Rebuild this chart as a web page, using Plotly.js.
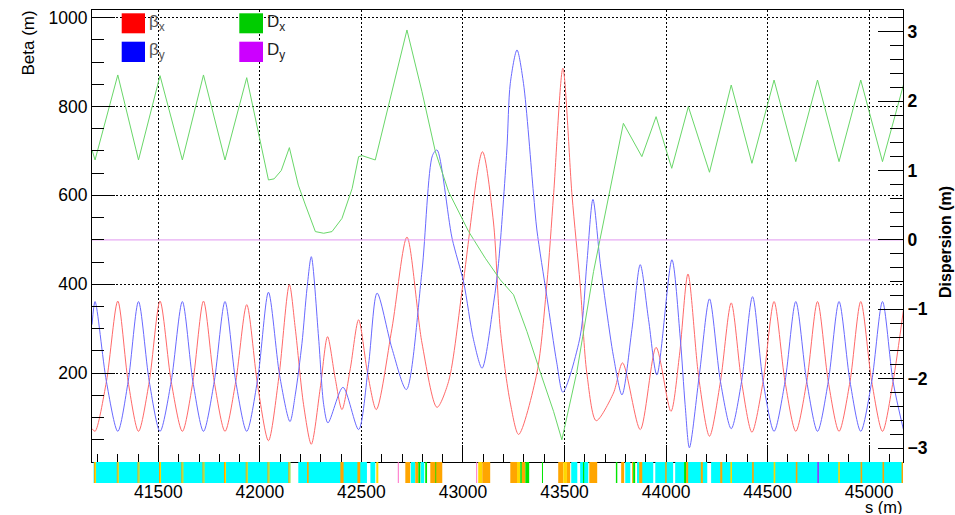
<!DOCTYPE html>
<html><head><meta charset="utf-8">
<script src="https://cdn.plot.ly/plotly-3.0.1.min.js"></script>
<style>body{margin:0;background:#fff}#chart{width:955px;height:515px}</style>
</head><body><div id="chart"></div>
<script>
// ---- data (s in m) ----
const sBetaX = [41173,41188,41244,41300,41351,41402,41455,41508,41563,41618,41670,41722,41775,41828,41881,41935,41988,42042,42093,42145,42174,42215,42253,42297,42333,42370,42404,42445,42486,42530,42573,42650,42724,42798,42872,42929,43000,43096,43150,43184,43233,43274,43364,43413,43446,43492,43537,43577,43610,43656,43741,43786,43873,43951,44024,44066,44108,44161,44214,44268,44321,44372,44423,44478,44532,44586,44639,44693,44746,44799,44852,44906,44959,45013,45066,45118,45169];
const betaX  = [75,69,181,362,181,69,181,362,181,69,181,362,181,69,181,354,175,48,190,399,301,129,40,166,282,190,118,210,320,200,118,300,506,268,123,181,400,698,540,298,133,62,200,400,600,886,600,400,200,93,155,223,73,258,114,240,423,190,58,181,358,181,67,181,361,181,69,181,361,181,69,181,361,181,69,181,342];

const sBetaY = [41173,41188,41244,41300,41351,41402,41455,41508,41563,41618,41670,41722,41775,41828,41881,41935,41990,42042,42097,42148,42174,42207,42232,42253,42289,42314,42335,42409,42486,42535,42577,42650,42721,42798,42850,42872,42946,43003,43052,43094,43151,43175,43216,43233,43266,43298,43347,43364,43413,43462,43492,43577,43610,43640,43676,43709,43741,43783,43832,43873,43914,43955,44029,44070,44094,44115,44165,44214,44268,44321,44372,44426,44478,44532,44586,44639,44693,44746,44799,44852,44906,44959,45013,45066,45118,45169];
const betaY  = [309,361,181,69,181,361,181,69,181,361,181,69,181,361,181,69,190,382,195,91,151,267,391,462,279,129,88,168,73,219,380,256,163,429,690,702,504,405,275,211,358,447,702,852,927,852,605,522,372,223,157,282,447,591,447,335,238,151,298,444,320,196,455,279,129,32,200,367,181,75,181,372,181,69,181,361,181,69,181,361,181,69,181,361,181,73];

const sDispX = [41173,41188,41300,41402,41508,41618,41722,41828,41935,42042,42070,42105,42145,42189,42224,42273,42314,42355,42404,42454,42486,42503,42568,42724,42798,42864,42929,43028,43110,43184,43249,43315,43380,43446,43487,43561,43643,43709,43790,43881,43951,44028,44110,44214,44321,44423,44532,44639,44746,44852,44959,45066,45169];
const dispX  = [1.296,1.152,2.377,1.152,2.367,1.152,2.377,1.152,2.338,0.864,0.88,1.0,1.33,0.79,0.504,0.12,0.096,0.12,0.31,0.74,1.2,1.215,1.152,3.025,2.136,1.272,0.696,0.12,-0.264,-0.576,-0.79,-1.32,-1.9,-2.47,-2.88,-1.9,-0.456,0.504,1.68,1.2,1.776,1.032,1.92,0.975,2.232,1.104,2.304,1.128,2.304,1.128,2.304,1.128,2.232];

const sDispY = [41173,45167];
const dispY  = [0,0];

// tick labels
const betaTicks = [200,400,600,800,1000];
const dispTicks = [-3,-2,-1,0,1,2,3];
const sTicks = [41500,42000,42500,43000,43500,44000,44500,45000];

// lattice elements: start, end, kind
const elemStart = [41181,42189,42544,42743,42792,43533,43577,43799,43857,43947,44045,44222,
  41183,41188,41295,41300,41397,41402,41503,41508,41613,41618,41717,41722,41823,41828,41930,41935,42037,42042,42140,42145,
  42232,42396,42480,42573,42679,42716,42765,42780,42814,42839,42864,43065,43075,43095,43233,43266,43282,43290,43307,43389,43469,43494,43512,43591,43622,43753,43779,43833,43838,43868,43996,44089,44099,44171,44267,
  44317,44424,44530,44639,44745,44848,44958,45066,45160];
const elemEnd   = [42150,42527,42568,42765,42809,43563,43617,43824,43937,44035,44203,45167,
  41188,41193,41300,41305,41402,41407,41508,41513,41618,41623,41722,41727,41828,41833,41935,41940,42042,42047,42145,42150,
  42240,42412,42494,42583,42684,42740,42780,42790,42823,42898,42868,43070,43095,43134,43266,43282,43290,43307,43326,43394,43494,43512,43528,43597,43661,43760,43794,43838,43848,43883,44003,44099,44109,44181,44277,
  44325,44432,44538,44647,44753,44856,44966,45074,45167];
const elemKind  = ['B','B','B','B','B','B','B','B','B','B','B','B',
  'QF','QD','QF','QD','QF','QD','QF','QD','QF','QD','QF','QD','QF','QD','QF','QD','QF','QD','QF','QD',
  'QF','QF','QF','QD','K','QF','QF','S','S','QF','S','K','QD','QF','QF','QD','S','QF','S','S','QF','QD','QF','S','QF','S','QF','QF','S','QF','QF','S','QF','QF','QF',
  'QD','QF','QD','QF','M','QD','QF','QF','QF'];
const kindColor = {B:'#00ffff', QF:'#ffa500', QD:'#ffd800', S:'#00e600', K:'#ff6ec7', M:'#9933ff'};

// ---- geometry (pixels) ----
const PL=92, PR=903, PT=10, PB=483, AXB=462;
const pw = PR-PL, ph = PB-PT;
const fx = px => (px-PL)/pw;
const fy = py => (PB-py)/ph;
const split = (PB-AXB)/ph;

const FONT = 'Liberation Sans, Arial, Helvetica, sans-serif';

const betaMinor = [];
for (let v = 50; v < 1017; v += 50) if (v % 200 !== 0) betaMinor.push(v);

const traces = [
  {x:sBetaX, y:betaX, type:'scatter', mode:'lines', line:{color:'rgb(255,105,105)', width:1, shape:'spline', smoothing:0.8}, xaxis:'x', yaxis:'y', hoverinfo:'skip'},
  {x:sBetaY, y:betaY, type:'scatter', mode:'lines', line:{color:'rgb(105,105,255)', width:1, shape:'spline', smoothing:0.8}, xaxis:'x', yaxis:'y', hoverinfo:'skip'},
  {x:sDispX, y:dispX, type:'scatter', mode:'lines', line:{color:'rgb(105,215,105)', width:1}, xaxis:'x', yaxis:'y2', hoverinfo:'skip'},
  {x:sDispY, y:dispY, type:'scatter', mode:'lines', line:{color:'rgb(225,150,240)', width:1}, xaxis:'x', yaxis:'y2', hoverinfo:'skip'},
  {type:'bar', x:elemStart.map((s,i)=>(s+elemEnd[i])/2), width:elemEnd.map((e,i)=>e-elemStart[i]),
   y:elemStart.map(()=>1), base:0, marker:{color:elemKind.map(k=>kindColor[k]), line:{width:0}},
   xaxis:'x2', yaxis:'y3', hoverinfo:'skip'}
];

const tickAxisCommon = {showline:true, linecolor:'black', linewidth:1, zeroline:false, ticks:'inside', tickcolor:'black', tickwidth:1};
const GRIDDASH = '2px,2px';

const layout = {
  width:955, height:515, showlegend:false,
  paper_bgcolor:'white', plot_bgcolor:'white',
  margin:{l:PL, r:955-PR, t:PT, b:515-PB, pad:0},
  barmode:'overlay',
  font:{family:FONT, color:'black', size:17},
  xaxis:Object.assign({}, tickAxisCommon, {
    domain:[0,1], anchor:'y', range:[41173,45167], tickmode:'array', tickvals:sTicks, ticklen:17,
    showticklabels:false, mirror:true,
    showgrid:true, gridcolor:'black', griddash:GRIDDASH, gridwidth:1,
    minor:{dtick:100, tick0:0, ticklen:8, ticks:'inside', tickcolor:'black', showgrid:false}
  }),
  xaxis2:{domain:[0,1], anchor:'y3', matches:'x', range:[41173,45167], tickmode:'array', tickvals:sTicks, tickformat:'d',
    showline:false, zeroline:false, showgrid:false, ticks:'', showticklabels:true,
    tickfont:{family:FONT, size:17.5, color:'black'}, ticklabelstandoff:-4},
  yaxis:Object.assign({}, tickAxisCommon, {
    domain:[split,1], anchor:'x', range:[0,1017], tickmode:'array', tickvals:betaTicks, ticklen:23,
    showgrid:true, gridcolor:'black', griddash:GRIDDASH, gridwidth:1,
    tickfont:{family:FONT, size:17.5, color:'black'},
    minor:{tickmode:'array', tickvals:betaMinor, ticklen:12, ticks:'inside', tickcolor:'black', showgrid:false}
  }),
  yaxis2:Object.assign({}, tickAxisCommon, {
    domain:[split,1], anchor:'x', overlaying:'y', side:'right', range:[-3.2,3.313], tickmode:'array', tickvals:dispTicks, ticklen:25,
    showgrid:false,
    tickfont:{family:FONT, size:17.5, color:'black', weight:'bold'},
    minor:{dtick:0.2, tick0:0, ticklen:13, ticks:'inside', tickcolor:'black', showgrid:false}
  }),
  yaxis3:{domain:[0,split], anchor:'x2', range:[0,1], showline:false, showgrid:false, zeroline:false, showticklabels:false, ticks:'', fixedrange:true},
  shapes:[
    {type:'rect', xref:'paper', yref:'paper', x0:fx(121.7), x1:fx(145), y0:fy(33.3), y1:fy(13.3), fillcolor:'#ff0000', line:{width:0}},
    {type:'rect', xref:'paper', yref:'paper', x0:fx(121.7), x1:fx(145), y0:fy(62), y1:fy(41.7), fillcolor:'#0000ff', line:{width:0}},
    {type:'rect', xref:'paper', yref:'paper', x0:fx(239.3), x1:fx(263), y0:fy(33.3), y1:fy(13.3), fillcolor:'#00cc00', line:{width:0}},
    {type:'rect', xref:'paper', yref:'paper', x0:fx(239.3), x1:fx(263), y0:fy(62), y1:fy(41.7), fillcolor:'#cc00ff', line:{width:0}}
  ],
  annotations:[
    {xref:'paper', yref:'paper', x:fx(147), y:fy(23), xanchor:'left', yanchor:'middle', showarrow:false, text:'β<sub>x</sub>', font:{family:FONT, size:17, color:'#555'}},
    {xref:'paper', yref:'paper', x:fx(147), y:fy(51), xanchor:'left', yanchor:'middle', showarrow:false, text:'β<sub>y</sub>', font:{family:FONT, size:17, color:'#555'}},
    {xref:'paper', yref:'paper', x:fx(265), y:fy(23), xanchor:'left', yanchor:'middle', showarrow:false, text:'D<sub>x</sub>', font:{family:FONT, size:17, color:'#222'}},
    {xref:'paper', yref:'paper', x:fx(265), y:fy(51), xanchor:'left', yanchor:'middle', showarrow:false, text:'D<sub>y</sub>', font:{family:FONT, size:17, color:'#222'}},
    {xref:'paper', yref:'paper', x:fx(28), y:fy(9), xanchor:'center', yanchor:'top', textangle:-90, showarrow:false, text:'Beta (m)', font:{family:FONT, size:17, color:'black'}},
    {xref:'paper', yref:'paper', x:fx(945), y:fy(242), xanchor:'center', yanchor:'middle', textangle:-90, showarrow:false, text:'<b>Dispersion (m)</b>', font:{family:FONT, size:16, color:'black'}},
    {xref:'paper', yref:'paper', x:fx(904), y:fy(515), xanchor:'right', yanchor:'bottom', height:15, valign:'middle', borderpad:0, showarrow:false, text:'s (m)', font:{family:FONT, size:16.5, color:'black'}}
  ]
};

Plotly.newPlot('chart', traces, layout, {staticPlot:true, displayModeBar:false});
</script>
</body></html>
